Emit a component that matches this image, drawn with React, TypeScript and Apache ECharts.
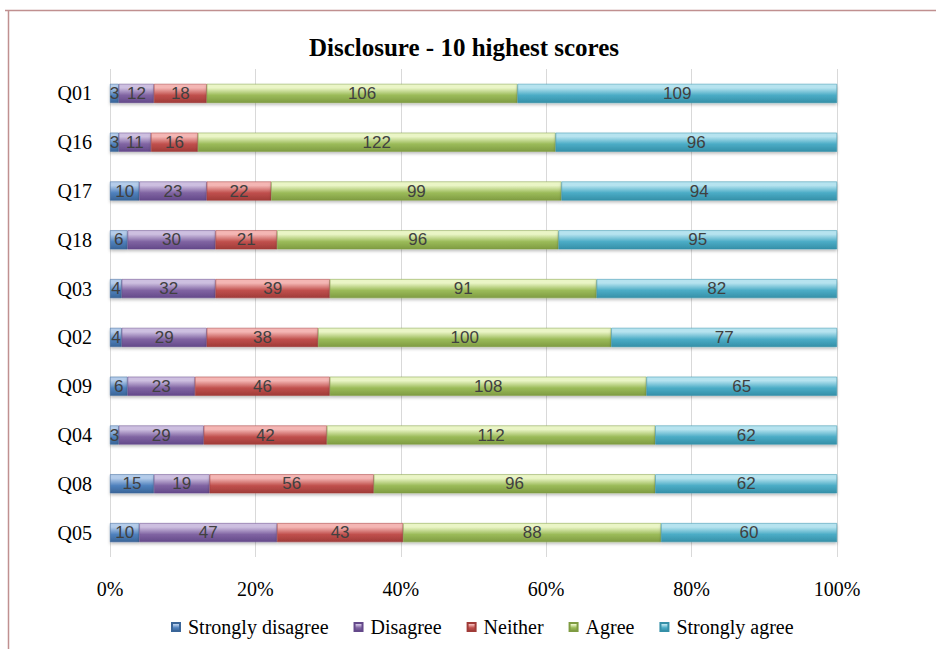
import React, { useEffect, useRef } from "react";
import * as echarts from "echarts";

const categories = ["Q01", "Q16", "Q17", "Q18", "Q03", "Q02", "Q09", "Q04", "Q08", "Q05"];
const seriesNames = ["Strongly disagree", "Disagree", "Neither", "Agree", "Strongly agree"];
const stronglyDisagree = [3, 3, 10, 6, 4, 4, 6, 3, 15, 10];
const disagree = [12, 11, 23, 30, 32, 29, 23, 29, 19, 47];
const neither = [18, 16, 22, 21, 39, 38, 46, 42, 56, 43];
const agree = [106, 122, 99, 96, 91, 100, 108, 112, 96, 88];
const stronglyAgree = [109, 96, 94, 95, 82, 77, 65, 62, 62, 60];
const xTicks = [0, 20, 40, 60, 80, 100];

const baseColors = ["#4F81BD", "#8064A2", "#C0504D", "#9BBB59", "#4BACC6"];
const lightColors = ["#B4CCEA", "#CDBFE0", "#F4B6B4", "#EAF5C6", "#B6E3EF"];
const darkColors = ["#3A6598", "#64498A", "#A03B38", "#7F9C42", "#3590A8"];

const serif = "Liberation Serif, Times New Roman, serif";

export default function App() {
  const ref = useRef<HTMLDivElement>(null);
  useEffect(() => {
    if (!ref.current) return;
    const chart = echarts.init(ref.current, undefined, { renderer: "svg" });
    const raw = [stronglyDisagree, disagree, neither, agree, stronglyAgree];
    const totals = categories.map((_, i) => raw.reduce((s, arr) => s + arr[i], 0));
    const series = raw.map((arr, k) => ({
      name: seriesNames[k],
      type: "bar",
      stack: "total",
      barWidth: 19,
      data: arr.map((v, i) => (v / totals[i]) * 100),
      itemStyle: {
        color: new echarts.graphic.LinearGradient(0, 0, 0, 1, [
          { offset: 0, color: lightColors[k] },
          { offset: 0.2, color: lightColors[k] },
          { offset: 0.6, color: baseColors[k] },
          { offset: 1, color: darkColors[k] },
        ]),
        borderColor: darkColors[k],
        borderWidth: 0.5,
        shadowColor: "rgba(0,0,0,0.25)",
        shadowBlur: 3,
        shadowOffsetY: 2,
      },
      label: {
        show: true,
        position: "inside",
        formatter: (p: any) => String(arr[p.dataIndex]),
        color: "#404040",
        fontFamily: "Liberation Sans, Arial, sans-serif",
        fontSize: 17,
      },
    }));
    chart.setOption({
      animation: false,
      backgroundColor: "#ffffff",
      color: baseColors,
      title: {
        text: "Disclosure - 10 highest scores",
        left: 459,
        top: 30,
        textAlign: "center",
        textStyle: {
          fontFamily: serif,
          fontWeight: "bold",
          fontSize: 25,
          color: "#000000",
        },
      },
      graphic: [
        {
          type: "line",
          shape: { x1: 5, y1: 10.5, x2: 940, y2: 10.5 },
          style: { stroke: "#C09090", lineWidth: 1.5 },
        },
        {
          type: "line",
          shape: { x1: 8.5, y1: 10, x2: 8.5, y2: 660 },
          style: { stroke: "#C09090", lineWidth: 1.5 },
        },
      ],
      legend: {
        top: 612,
        left: 166,
        itemWidth: 8,
        itemHeight: 8,
        itemGap: 25,
        icon: "rect",
        textStyle: {
          fontFamily: serif,
          fontSize: 20,
          color: "#000000",
          padding: [0, 0, 0, 3],
        },
        data: seriesNames,
      },
      grid: { left: 110, right: 99, top: 69, bottom: 92 },
      xAxis: {
        type: "value",
        min: xTicks[0],
        max: xTicks[xTicks.length - 1],
        interval: 20,
        axisLabel: {
          formatter: "{value}%",
          fontFamily: serif,
          fontSize: 20,
          color: "#000000",
          margin: 22,
        },
        axisLine: { show: false },
        axisTick: { show: false },
        splitLine: { show: true, lineStyle: { color: "#D9D9D9", width: 1 } },
      },
      yAxis: {
        type: "category",
        inverse: true,
        data: categories,
        axisLabel: {
          fontFamily: serif,
          fontSize: 20,
          color: "#000000",
          margin: 18,
        },
        axisLine: { show: false },
        axisTick: { show: false },
      },
      series,
    });
    return () => chart.dispose();
  }, []);
  return (
    <div
      ref={ref}
      style={{ position: "fixed", left: 0, top: 0, width: 936, height: 649 }}
    />
  );
}
